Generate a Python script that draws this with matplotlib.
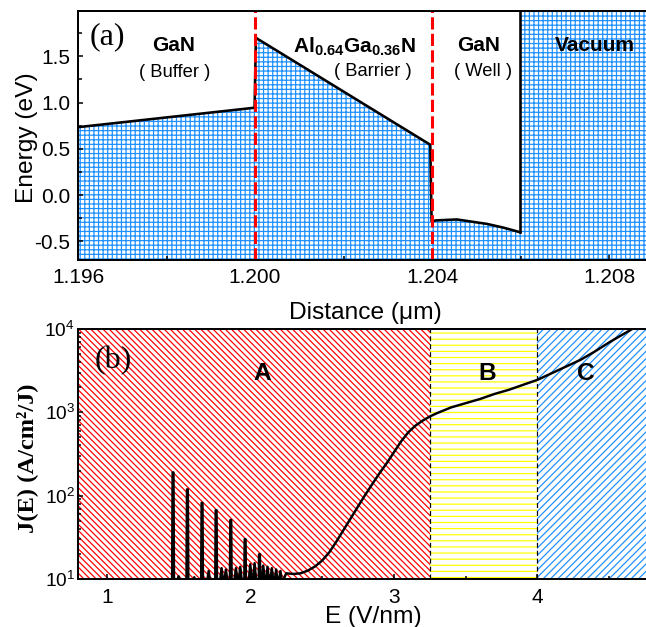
import matplotlib
matplotlib.use("Agg")
import matplotlib.pyplot as plt
from matplotlib.ticker import FixedLocator, FormatStrFormatter, LogLocator, MultipleLocator

plt.rcParams['font.family'] = ['Liberation Sans', 'DejaVu Sans']
plt.rcParams['mathtext.fontset'] = 'custom'
plt.rcParams['mathtext.rm'] = 'Liberation Sans'
plt.rcParams['mathtext.bf'] = 'Liberation Sans:bold'
plt.rcParams['mathtext.it'] = 'Liberation Sans:italic'
plt.rcParams['hatch.linewidth'] = 0.8

# ---------------- data: panel (a) band profile ----------------
dist_um = [1.196, 1.19999, 1.20002, 1.20396, 1.20399, 1.2041, 1.20456, 1.20524, 1.20561, 1.20599]
energy_eV = [0.735, 0.945, 1.70, 0.545, -0.28, -0.272, -0.262, -0.31, -0.35, -0.40]
interfaces_um = [1.200, 1.204]
vacuum_start_um = 1.20599
xticks_a = [1.196, 1.200, 1.204, 1.208]
yticks_a = [-0.5, 0.0, 0.5, 1.0, 1.5]

# ---------------- data: panel (b) J(E) ----------------
peak_E = [1.462, 1.562, 1.664, 1.762, 1.864, 1.964, 2.064]
peak_J = [190, 119, 82, 67, 51, 30, 19.8]
ripple_E = [1.50, 1.61, 1.71, 1.80, 1.83, 1.90, 1.93, 2.00, 2.03, 2.09, 2.12, 2.15, 2.18, 2.21]
ripple_J = [10.8, 10.5, 12.5, 13.5, 13.0, 13.5, 14.0, 15.0, 15.5, 14.5, 14.0, 13.5, 13.0, 12.5]
curve_E = [2.25, 2.30, 2.35, 2.40, 2.45, 2.50, 2.55, 2.60, 2.65, 2.70, 2.75, 2.80, 2.85,
           2.90, 2.95, 3.00, 3.05, 3.10, 3.15, 3.20, 3.25, 3.30, 3.40, 3.50, 3.60, 3.70,
           3.80, 3.90, 4.00, 4.10, 4.20, 4.30, 4.40, 4.50, 4.60, 4.70, 4.80]
curve_J = [11.7, 11.5, 11.7, 12.6, 14.1, 16.6, 20.9, 28.2, 38.9, 53.7, 74.1, 102, 138,
           186, 245, 331, 447, 575, 692, 794, 891, 977, 1148, 1288, 1445, 1660,
           1862, 2138, 2455, 2951, 3548, 4266, 5370, 6918, 8710, 10965, 13800]
region_edges = [0.8, 3.25, 4.0, 4.77]
region_labels = ['A', 'B', 'C']
xticks_b = [1, 2, 3, 4]

# build J(E) polyline from the peak / ripple / curve lists
spike_floor, ripple_floor = 3.0, 9.0
spike_hw, spike_top_hw, ripple_hw = 0.008, 0.003, 0.012
pts = []
for e, j in zip(peak_E, peak_J):
    pts += [(e - spike_hw, spike_floor), (e - spike_top_hw, j),
            (e + spike_top_hw, j), (e + spike_hw, spike_floor)]
for e, j in zip(ripple_E, ripple_J):
    pts += [(e - ripple_hw, ripple_floor), (e, j), (e + ripple_hw, ripple_floor)]
pts.sort()
pts += list(zip(curve_E, curve_J))
jE = [p[0] for p in pts]
jJ = [p[1] for p in pts]

DPI = 110
W, H = 646, 627
fig = plt.figure(figsize=(W / DPI, H / DPI), dpi=DPI)

blue = '#1E90FF'

# ---------------- panel (a) ----------------
ax1 = fig.add_axes([78 / W, 1 - 260 / H, 570 / W, 249 / H])
xmax_a = 1.20888
ylo, yhi = -0.7, 1.99
ax1.fill_between(dist_um, ylo, energy_eV, facecolor='white', edgecolor=blue,
                 hatch='++++', linewidth=0, zorder=1)
ax1.axvspan(vacuum_start_um, xmax_a + 0.001, facecolor='white', edgecolor=blue,
            hatch='++++', linewidth=0, zorder=1)
ax1.plot(dist_um, energy_eV, color='black', lw=1.7, zorder=3)
ax1.plot([vacuum_start_um, vacuum_start_um], [energy_eV[-1], yhi], color='black', lw=1.7, zorder=3)
for xi in interfaces_um:
    ax1.axvline(xi, color='red', lw=2.0, ls=(0, (4, 1.4)), zorder=4)
ax1.set_xlim(1.196, xmax_a)
ax1.set_ylim(ylo, yhi)
ax1.xaxis.set_major_locator(FixedLocator(xticks_a))
ax1.xaxis.set_major_formatter(FormatStrFormatter('%.3f'))
ax1.xaxis.set_minor_locator(MultipleLocator(0.002))
ax1.yaxis.set_major_locator(FixedLocator(yticks_a))
ax1.yaxis.set_major_formatter(FormatStrFormatter('%.1f'))
ax1.yaxis.set_minor_locator(MultipleLocator(0.25))
ax1.tick_params(which='both', direction='in', top=False, right=False, labelsize=13.7, width=1.0)
ax1.tick_params(which='major', length=3.5, pad=5)
ax1.tick_params(which='minor', length=2.5)
for s in ax1.spines.values():
    s.set_linewidth(1.3)
    s.set_zorder(5)
ax1.set_xlabel('Distance (μm)', fontsize=16)
ax1.xaxis.set_label_coords(0.505, -0.168)
ax1.set_ylabel('Energy (eV)', fontsize=16)
ax1.yaxis.set_label_coords(-0.071, 0.49)

ax1.text(0.051, 0.895, '(a)', transform=ax1.transAxes, ha='center', va='center',
         fontsize=21, family='Liberation Serif', zorder=6)
ax1.text(0.167, 0.861, 'GaN', transform=ax1.transAxes, ha='center', va='center',
         fontsize=13.7, fontweight='bold', zorder=6)
ax1.text(0.169, 0.755, '( Buffer )', transform=ax1.transAxes, ha='center', va='center',
         fontsize=12, zorder=6)
ax1.text(0.484, 0.855, r'$\mathbf{Al_{0.64}Ga_{0.36}N}$', transform=ax1.transAxes,
         ha='center', va='center', fontsize=13.7, zorder=6)
ax1.text(0.518, 0.759, '( Barrier )', transform=ax1.transAxes, ha='center', va='center',
         fontsize=12, zorder=6)
ax1.text(0.702, 0.863, 'GaN', transform=ax1.transAxes, ha='center', va='center',
         fontsize=13.7, fontweight='bold', zorder=6)
ax1.text(0.711, 0.759, '( Well )', transform=ax1.transAxes, ha='center', va='center',
         fontsize=12, zorder=6)
ax1.text(0.907, 0.863, 'Vacuum', transform=ax1.transAxes, ha='center', va='center',
         fontsize=13.7, fontweight='bold', zorder=6)

# ---------------- panel (b) ----------------
ax2 = fig.add_axes([78 / W, 1 - 579 / H, 570 / W, 250 / H])
styles = [('red', '\\' * 6), ('#FFFF00', '---'), (blue, '/' * 5)]
for (c, h), x0, x1 in zip(styles, region_edges[:-1], region_edges[1:]):
    ax2.axvspan(x0, x1, facecolor='white', edgecolor=c, hatch=h, linewidth=0, zorder=0)
for xe in region_edges[1:3]:
    ax2.axvline(xe, color='black', lw=0.8, ls=(0, (4, 2.5)), zorder=2)
ax2.plot(jE, jJ, color='black', lw=1.6, zorder=3)
ax2.set_yscale('log')
ax2.set_xlim(0.8, 4.77)
ax2.set_ylim(10, 1e4)
ax2.xaxis.set_major_locator(FixedLocator(xticks_b))
ax2.xaxis.set_minor_locator(MultipleLocator(0.5))
ax2.yaxis.set_major_locator(LogLocator(base=10))
ax2.yaxis.set_minor_locator(LogLocator(base=10, subs=range(2, 10)))
ax2.tick_params(which='both', direction='in', top=False, right=False, width=1.0)
ax2.tick_params(axis='x', labelsize=13.7, pad=6)
ax2.tick_params(axis='y', labelsize=12.5, pad=2)
ax2.tick_params(which='major', length=3.5)
ax2.tick_params(which='minor', length=2.2)
for s in ax2.spines.values():
    s.set_linewidth(1.3)
    s.set_zorder(5)
ax2.set_xlabel('E (V/nm)', fontsize=16)
ax2.xaxis.set_label_coords(0.518, -0.106)
ax2.set_ylabel('J(E) (A/cm²/J)', fontsize=16, family='Liberation Serif', fontweight='bold')
ax2.yaxis.set_label_coords(-0.07, 0.482)

ax2.text(0.061, 0.875, '(b)', transform=ax2.transAxes, ha='center', va='center',
         fontsize=21, family='Liberation Serif', zorder=6)
for lab, xf in zip(region_labels, [0.323, 0.718, 0.891]):
    ax2.text(xf, 0.822, lab, transform=ax2.transAxes, ha='center', va='center',
             fontsize=16, fontweight='bold', zorder=6)

fig.savefig('out.png', dpi=DPI)
